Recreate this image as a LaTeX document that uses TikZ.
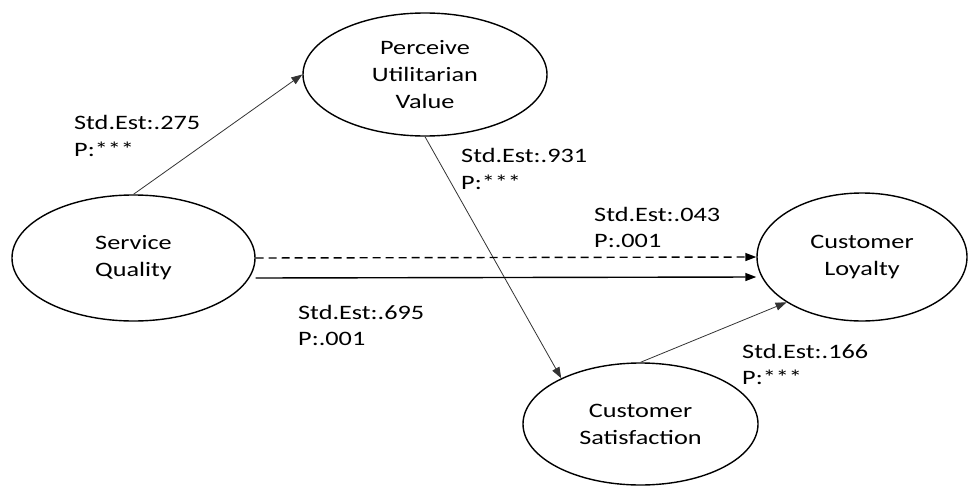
\documentclass[tikz,border=0pt]{standalone}
\usepackage{fontspec}
\setmainfont{Carlito}[FakeStretch=1.28]
\usetikzlibrary{shapes.geometric,arrows.meta,calc}

\begin{document}
\begin{tikzpicture}[x=1pt,y=-1pt,
  construct/.style={ellipse,draw=black,line width=1.4pt,inner sep=0pt,align=center,
    font=\fontsize{20.5pt}{27pt}\selectfont},
  estlabel/.style={anchor=base west,inner sep=0pt,align=left,
    font=\fontsize{20.5pt}{26.5pt}\selectfont},
  tip/.style={-{Triangle[length=11pt,width=8pt]}},
  thinpath/.style={tip,line width=0.8pt,draw=black!80},
  thickpath/.style={tip,line width=1.4pt,draw=black}]

\useasboundingbox (0,0) rectangle (968,487);

% latent constructs
\node[construct,minimum width=243pt,minimum height=126pt] (sq)  at (133.5,258) {Service\\Quality};
\node[construct,minimum width=244pt,minimum height=123pt] (puv) at (425,74.5) {Perceive\\Utilitarian\\Value};
\node[construct,minimum width=210pt,minimum height=128pt] (cl)  at (862,257) {Customer\\Loyalty};
\node[construct,minimum width=235pt,minimum height=122pt] (cs)  at (640.5,424) {Customer\\Satisfaction};

% structural paths
\draw[thinpath] (sq.north) -- (puv.west);
\draw[thinpath] (puv.south) -- (cs.150);
\draw[thickpath,dash pattern=on 8pt off 5pt] (sq.east) -- (cl.west);
\draw[thickpath] ([yshift=-20pt]sq.east) -- ([yshift=-20pt]cl.west);
\draw[thinpath] (cs.north) -- (cl.211);

% path estimates (anchored at the baseline of the second line)
\node[estlabel] (e1) at (74,156) {Std.Est:.275\\P:***};
\node[estlabel] (e2) at (461,189) {Std.Est:.931\\P:***};
\node[estlabel] (e3) at (594,247.5) {Std.Est:.043\\P:.001};
\node[estlabel] (e4) at (298,345.5) {Std.Est:.695\\P:.001};
\node[estlabel] (e5) at (742,384.5) {Std.Est:.166\\P:***};
\end{tikzpicture}
\end{document}
